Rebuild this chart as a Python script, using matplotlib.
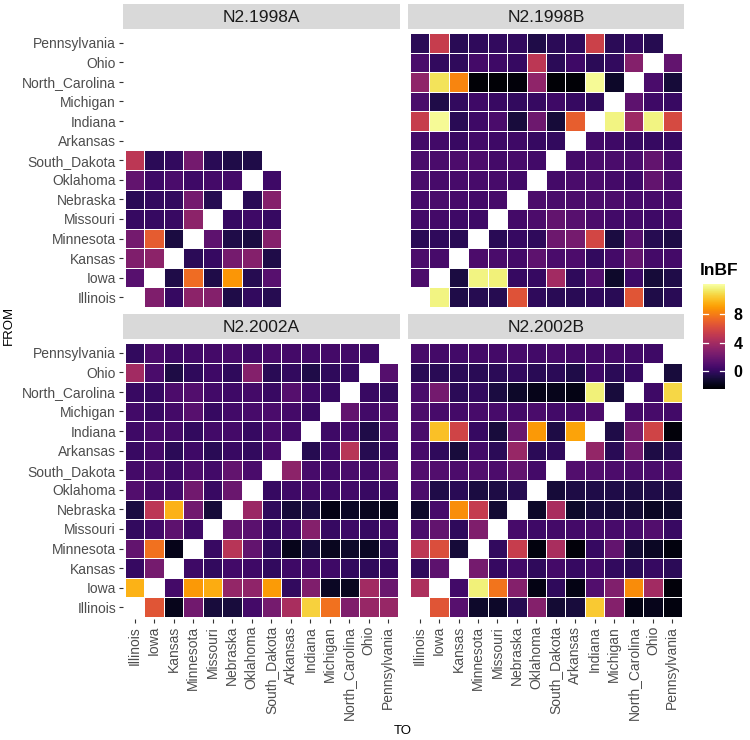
import numpy as np
import matplotlib
matplotlib.use("Agg")
import matplotlib.pyplot as plt
from matplotlib.colorbar import ColorbarBase
from matplotlib.colors import Normalize

plt.rcParams['font.family'] = ['Liberation Sans', 'DejaVu Sans']

states = ['Illinois', 'Iowa', 'Kansas', 'Minnesota', 'Missouri', 'Nebraska',
          'Oklahoma', 'South_Dakota', 'Arkansas', 'Indiana', 'Michigan',
          'North_Carolina', 'Ohio', 'Pennsylvania']
panels = ['N2.1998A', 'N2.1998B', 'N2.2002A', 'N2.2002B']
nan = np.nan

# rows = FROM (states order), cols = TO (states order)
n1998A = [
    [nan, 2.6, 0.0, 3.1, 2.8, -0.7, -0.1, -0.5],
    [1.2, nan, -0.7, 7.4, -0.7, 8.8, -0.5, 1.2],
    [2.6, 3.1, nan, -0.3, 0.0, 2.3, 2.8, -0.7],
    [2.2, 6.8, -0.9, nan, 1.4, -0.7, -0.9, 2.8],
    [0.0, 0.0, 0.1, 3.1, nan, 0.0, 0.3, 0.0],
    [-0.4, -0.1, -0.1, 2.2, -0.5, nan, -0.4, 2.8],
    [1.6, 0.3, 0.7, 0.3, 0.5, 0.5, nan, 0.3],
    [4.9, -0.3, -0.1, 2.2, -0.4, -0.7, -0.7, nan],
]

n1998B = [
    [nan, 11.7, -0.7, -0.5, -0.5, 6.4, -0.2, -0.4, -0.4, -0.2, -0.4, 6.5, -0.7, -0.4],
    [0.8, nan, -0.9, 11.7, 11.6, 0.0, 0.0, 3.9, -0.2, 1.0, -1.4, 0.3, -1.1, -0.7],
    [0.8, 0.6, nan, 0.8, 0.7, 0.5, 1.4, 0.7, 0.8, -0.1, 0.5, 1.6, 0.5, 0.5],
    [-0.4, -0.2, -0.4, nan, -0.4, 0.0, -0.2, 2.0, 2.3, 5.8, -0.9, 1.1, -0.5, -0.8],
    [0.5, 0.5, 0.3, 0.3, nan, 0.5, 0.8, 1.6, 1.2, 0.8, 0.4, 0.5, 0.3, 0.5],
    [0.6, 0.7, 0.6, 0.5, 0.6, nan, 0.8, 0.7, 0.8, 0.8, 0.8, 0.6, 0.6, 0.6],
    [0.7, 0.6, 0.6, 0.6, 0.6, 0.4, nan, 0.5, 0.7, 0.7, 0.5, 0.3, 1.6, 0.7],
    [0.7, 0.7, 0.8, 0.8, 0.5, 0.6, 0.4, nan, 0.5, 0.7, 0.7, 0.7, 1.6, 0.6],
    [0.5, 0.4, 0.1, 0.4, 0.3, 0.3, 0.0, -0.1, nan, 0.4, 0.3, 0.1, 0.0, 0.0],
    [5.3, 12.0, -0.4, 0.3, 0.7, -1.0, 2.0, -1.1, 6.9, nan, 11.7, 3.7, 11.7, 6.0],
    [0.7, -0.7, -0.1, 0.3, 0.1, -0.1, 0.0, 0.3, 0.0, -0.2, nan, 1.4, 0.3, 0.1],
    [3.2, 11.1, 8.3, -2.4, -2.4, -2.3, 3.2, -2.4, -2.4, 12.0, -1.5, nan, 0.7, -1.1],
    [0.7, -0.1, -0.2, 0.5, 0.3, 0.0, 4.9, -0.3, 0.3, -0.3, -0.1, 2.8, nan, 1.6],
    [-0.3, 5.3, -0.4, -0.2, -0.1, -0.1, -0.7, -0.3, -0.2, 5.5, -0.3, -0.1, -0.5, nan],
]

n2002A = [
    [nan, 6.5, -1.8, 2.1, -1.0, -1.0, 0.5, 2.3, 4.2, 10.6, 7.6, 2.6, 3.5, 3.5],
    [9.7, nan, 0.5, 8.9, 9.5, 3.4, 3.2, 9.0, -0.1, 2.6, -1.6, -1.7, 3.9, 1.9],
    [0.0, 2.3, nan, 0.3, -0.1, 0.4, 0.3, -0.1, 0.3, 0.5, 0.3, -0.1, -0.2, 0.0],
    [1.6, 7.6, -1.9, nan, 0.1, 4.7, 1.6, -0.2, -1.8, -1.0, -1.7, -1.4, -1.6, -0.1],
    [-0.1, 0.4, 1.4, 0.3, nan, 1.6, 1.3, 0.0, 0.3, 2.8, 0.0, 0.3, 0.0, 0.4],
    [-0.9, 4.9, 9.7, 2.1, -1.1, nan, 3.6, -0.2, -1.1, -0.9, -2.0, -1.6, -1.7, -1.8],
    [1.0, 0.5, 0.4, 2.1, 0.1, 1.9, nan, 0.0, 0.3, 0.5, 0.3, 0.4, 0.1, 0.3],
    [0.5, 0.7, 0.3, 0.8, 0.4, 1.6, 0.7, nan, 3.1, 0.6, 0.4, 0.7, 0.4, 1.2],
    [0.1, 0.5, -0.3, 0.3, -0.4, 0.1, -0.1, 0.6, nan, -0.5, 0.3, 4.7, -0.5, 0.1],
    [0.3, 0.6, 0.5, -0.1, 0.4, 0.5, 0.0, 0.6, 0.4, nan, 0.3, 0.5, -0.7, 0.7],
    [0.4, 0.1, 0.5, 1.2, 0.0, 0.4, 0.6, 0.7, 0.5, 0.1, nan, 1.6, 0.4, 0.8],
    [0.1, 0.0, 0.8, 1.0, 0.4, 0.3, 0.5, 0.1, 1.1, 0.3, 0.0, nan, 0.1, -0.1],
    [3.9, 0.7, -0.8, -0.2, 0.3, -0.2, 2.8, -0.4, -0.1, -0.7, -0.2, 0.0, nan, 1.1],
    [-0.1, 0.7, 0.3, 0.4, 0.5, 0.6, 0.3, 0.6, 0.5, 0.4, 0.5, 0.4, 0.3, nan],
]

n2002B = [
    [nan, 6.5, 1.2, -1.4, -1.5, -0.5, 2.8, -1.2, -1.0, 10.4, 2.8, -2.0, -1.8, -2.2],
    [4.3, nan, 0.4, 11.6, 7.7, 2.8, -2.0, -0.2, -2.0, 1.0, 2.7, 8.5, 3.9, -2.3],
    [-0.2, 1.4, nan, 2.3, 0.0, 0.4, -0.2, 0.5, 0.0, 0.4, -0.1, -0.3, 0.0, -0.3],
    [4.9, 6.2, -1.1, nan, -0.1, 5.3, -2.2, 4.2, -2.3, 0.0, 1.6, -1.2, -1.6, -2.2],
    [0.8, 1.6, -0.2, 2.6, nan, 0.6, 0.3, 0.5, 0.5, 0.6, 0.6, 0.6, 1.0, 0.1],
    [-1.5, 0.6, 8.6, 5.2, -1.2, nan, -1.5, 4.2, -1.4, -1.0, -1.1, -1.2, -1.6, -1.4],
    [0.8, -0.7, -0.4, -0.9, -0.8, -0.5, nan, -1.1, -0.8, -0.7, -0.7, -0.8, -0.7, -0.8],
    [1.0, 1.0, 0.8, 1.0, 0.8, 1.6, 0.5, nan, 1.0, 1.0, 0.8, 0.8, 0.7, 0.8],
    [0.6, -0.2, -1.0, 0.4, -0.3, 3.5, -0.3, -0.2, nan, 3.4, -0.4, 2.1, -0.8, -0.5],
    [0.7, 10.1, 5.7, 0.0, -1.0, 1.9, 8.9, -0.8, 9.2, nan, -0.7, 2.3, 5.7, -2.3],
    [0.8, 0.6, 0.5, 0.6, 0.6, 0.5, 0.7, 0.4, 0.5, 0.8, nan, 0.5, 0.6, 0.4],
    [0.7, 2.2, -0.3, -0.1, -0.9, -1.5, -1.9, -1.8, -2.0, 11.6, -1.0, nan, 0.3, 10.8],
    [-0.4, -0.4, -0.3, -0.4, -0.3, -0.1, -0.4, -0.3, -0.7, 0.3, -0.3, 0.0, nan, -1.0],
    [0.6, 0.5, 0.4, 0.5, 0.5, 0.6, 0.4, 0.6, 0.5, 0.5, 0.5, 0.4, 0.3, nan],
]

cbar_ticks = [0, 4, 8]
vmin, vmax = -2.55, 12.25

W, H = 750, 740
fig = plt.figure(figsize=(7.5, 7.4), dpi=100)


def frac(x0, y0, x1, y1):
    # pixel box (top-left origin) -> figure fraction rect
    return [x0 / W, 1 - y1 / H, (x1 - x0) / W, (y1 - y0) / H]


n = len(states)
boxes = [(123, 31, 400, 309), (408, 31, 684, 309),
         (123, 341, 400, 619), (408, 341, 684, 619)]
datas = [n1998A, n1998B, n2002A, n2002B]
norm = Normalize(vmin=vmin, vmax=vmax)
tick_col = '#4d4d4d'

for k, (name, box, d) in enumerate(zip(panels, boxes, datas)):
    arr = np.full((n, n), np.nan)
    d = np.array(d, dtype=float)
    arr[:d.shape[0], :d.shape[1]] = d
    ax = fig.add_axes(frac(*box))
    edges = np.arange(n + 1) - 0.5
    ax.pcolormesh(edges, edges, np.ma.masked_invalid(arr), cmap='inferno',
                  norm=norm, edgecolors='white', linewidth=0.55)
    ax.set_xlim(-0.6, n - 0.4)
    ax.set_ylim(-0.6, n - 0.4)
    for s in ax.spines.values():
        s.set_visible(False)
    ax.set_xticks(range(n))
    ax.set_yticks(range(n))
    ax.tick_params(length=3, width=0.8, color='#333333', labelcolor=tick_col,
                   labelsize=10, pad=2)
    if k % 2 == 0:
        ax.set_yticklabels(states)
    else:
        ax.tick_params(axis='y', length=0, labelleft=False)
    if k >= 2:
        ax.set_xticklabels(states, rotation=90, ha='center', va='top')
    else:
        ax.tick_params(axis='x', length=0, labelbottom=False)

    # strip
    sax = fig.add_axes(frac(box[0], box[1] - 27, box[2], box[1] - 2))
    sax.set_facecolor('#d9d9d9')
    sax.set_xticks([])
    sax.set_yticks([])
    for s in sax.spines.values():
        s.set_visible(False)
    sax.text(0.5, 0.45, name, ha='center', va='center', fontsize=12.5,
             color='#1a1a1a', transform=sax.transAxes)

# colorbar
cax = fig.add_axes(frac(703, 284, 725, 389))
cb = ColorbarBase(cax, cmap=plt.get_cmap('inferno'), norm=norm, ticks=cbar_ticks)
cb.outline.set_visible(False)
cax.tick_params(length=0, labelsize=11.5, pad=6)
for t in cax.get_yticklabels():
    t.set_fontweight('bold')
for tv in cbar_ticks:
    cax.axhline(tv, xmin=0, xmax=0.22, color='white', lw=0.9)
    cax.axhline(tv, xmin=0.78, xmax=1, color='white', lw=0.9)
fig.text(700 / W, 1 - 270 / H, 'lnBF', fontsize=12.5, fontweight='bold',
         ha='left', va='center')

fig.text(9 / W, 1 - 325 / H, 'FROM', rotation=90, fontsize=9.5,
         ha='center', va='center')
fig.text(403 / W, 1 - 731 / H, 'TO', fontsize=9.5, ha='center', va='center')

fig.savefig('out.png', dpi=100, facecolor='white')
